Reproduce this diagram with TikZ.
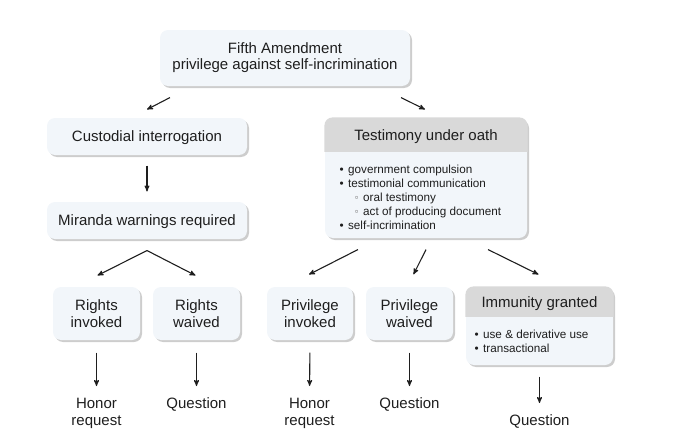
\documentclass[tikz,border=0pt]{standalone}
\usepackage{fontspec}
\setmainfont{Liberation Sans}
\usetikzlibrary{
        arrows,
        shadows,
        positioning
    }
\definecolor{boxfill}{HTML}{F2F6FA}
\definecolor{headfill}{HTML}{D9D9D9}
\definecolor{shadowgray}{HTML}{9C9C9C}
\definecolor{inkcol}{HTML}{1E1E1E}
\definecolor{subbullet}{HTML}{777777}
\tikzset{>=stealth',shorten >=0pt}

\begin{document}
\begin{tikzpicture}[x=1pt,y=-1pt,line width=1.1pt,color=inkcol,
        box/.style={fill=boxfill,rounded corners=8pt,align=center,inner sep=0pt,
            font=\fontsize{15}{17}\selectfont,
            drop shadow={shadow xshift=2pt,shadow yshift=-2pt,fill=shadowgray}},
        wide/.style={box,minimum width=200pt,minimum height=37pt,text height=13pt,text depth=3pt},
        small/.style={box,minimum width=87pt,minimum height=53pt},
        head/.style={inner sep=0pt,font=\fontsize{15}{17}\selectfont},
        items/.style={align=left,inner sep=0pt,anchor=north west,font=\fontsize{11.7}{14}\selectfont},
        outcome/.style={align=center,inner sep=0pt,anchor=north,font=\fontsize{15}{17}\selectfont}]
                \useasboundingbox (0,0) rectangle (673,439);
                % boxes
                \node[box,minimum width=250pt,minimum height=56pt,font=\fontsize{15}{16}\selectfont] (fifth) at (285,58) {Fifth Amendment\\privilege against self-incrimination};
                \node[wide] (custody)  at (147,136.5) {Custodial interrogation};
                \node[wide] (miranda)  at (147,220.5) {Miranda warnings required};
                \node[small] (rinvoked) at (96.5,313.5) {Rights\\invoked};
                \node[small] (rwaived)  at (196.5,313.5) {Rights\\waived};
                \node[small,minimum width=86pt] (pinvoked) at (310,313.5) {Privilege\\invoked};
                \node[small] (pwaived)  at (409.5,313.5) {Privilege\\waived};
                \node[box,minimum width=202pt,minimum height=120pt] (oath) at (426,178) {};
                \node[box,minimum width=147pt,minimum height=78pt] (immunity) at (539.5,326) {};
                % grey headers
                \begin{scope}
                    \clip[rounded corners=8pt] (oath.north west) rectangle (oath.south east);
                    \fill[headfill] (oath.north west) rectangle ([yshift=-35pt]oath.north east);
                \end{scope}
                \begin{scope}
                    \clip[rounded corners=8pt] (immunity.north west) rectangle (immunity.south east);
                    \fill[headfill] (immunity.north west) rectangle ([yshift=-31pt]immunity.north east);
                \end{scope}
                \node[head] (oathhead) at ([yshift=-19.5pt]oath.north) {Testimony under oath};
                \node[items] (oathlist) at (339,164.5) {•\hspace{4.5pt}government compulsion\\
                    •\hspace{4.5pt}testimonial communication\\
                    \hspace*{15pt}{\color{subbullet}◦}\hspace{4.5pt}oral testimony\\
                    \hspace*{15pt}{\color{subbullet}◦}\hspace{4.5pt}act of producing document\\
                    •\hspace{4.5pt}self-incrimination};
                \node[head] (immhead) at ([yshift=-17.5pt]immunity.north) {Immunity granted};
                \node[items] (immlist) at (474,329) {•\hspace{4.5pt}use \& derivative use\\
                    •\hspace{4.5pt}transactional};
                % outcomes
                \node[outcome] (honor1)    at (96.5,397.5)  {Honor\\request};
                \node[outcome] (question1) at (196.5,397.5) {Question};
                \node[outcome] (honor2)    at (309.5,397.5) {Honor\\request};
                \node[outcome] (question2) at (409.5,397.5) {Question};
                \node[outcome] (question3) at (539.5,414.5) {Question};
                \coordinate (fork) at ([yshift=-11pt]miranda.south);
                \path[->]
                    ([shift={(-115,11)}]fifth.south) edge ([shift={(0,-8)}]custody.north)
                    ([shift={(116,11)}]fifth.south)  edge ([shift={(-1,-8)}]oath.north)
                    (custody.south) edge [shorten <=10pt,shorten >=10pt] (miranda.north)
                    (fork) edge ([shift={(1,-11)}]rinvoked.north)
                    (fork) edge ([shift={(-1,-11)}]rwaived.north)
                    ([shift={(-68,11)}]oath.south) edge ([shift={(-1,-12)}]pinvoked.north)
                    ([shift={(0,11)}]oath.south)   edge ([shift={(4,-12)}]pwaived.north)
                    ([shift={(62,11)}]oath.south)  edge ([shift={(-1,-12)}]immunity.north)
                    (rinvoked.south) edge [shorten <=12pt,shorten >=11.5pt] (honor1.north)
                    (rwaived.south)  edge [shorten <=12pt,shorten >=11.5pt] (question1.north)
                    (pinvoked.south) edge [shorten <=12pt,shorten >=11.5pt] (honor2.north)
                    (pwaived.south)  edge [shorten <=12pt,shorten >=11.5pt] (question2.north)
                    (immunity.south) edge [shorten <=11pt,shorten >=11.5pt] (question3.north)
                ;
            \end{tikzpicture}
\end{document}
